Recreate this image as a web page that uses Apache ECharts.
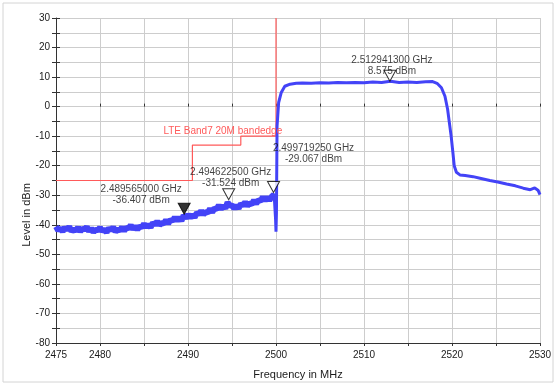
<!DOCTYPE html>
<html>
<head>
<meta charset="utf-8">
<script src="https://cdn.jsdelivr.net/npm/echarts@6/dist/echarts.min.js"></script>
<style>html,body{margin:0;padding:0;background:#fff}#c{width:555px;height:385px}</style>
</head>
<body>
<div id="c"></div>
<script>
// ---- data ----
const xTickLabels = [2475, 2480, 2490, 2500, 2510, 2520, 2530];
const yTickLabels = [-80, -70, -60, -50, -40, -30, -20, -10, 0, 10, 20, 30];

// noisy part of the trace (below the band), read every 0.25 MHz
const noisyFreq = [
  2475.00,2475.25,2475.50,2475.75,2476.00,2476.25,2476.50,2476.75,2477.00,2477.25,
  2477.50,2477.75,2478.00,2478.25,2478.50,2478.75,2479.00,2479.25,2479.50,2479.75,
  2480.00,2480.25,2480.50,2480.75,2481.00,2481.25,2481.50,2481.75,2482.00,2482.25,
  2482.50,2482.75,2483.00,2483.25,2483.50,2483.75,2484.00,2484.25,2484.50,2484.75,
  2485.00,2485.25,2485.50,2485.75,2486.00,2486.25,2486.50,2486.75,2487.00,2487.25,
  2487.50,2487.75,2488.00,2488.25,2488.50,2488.75,2489.00,2489.25,2489.50,2489.75,
  2490.00,2490.25,2490.50,2490.75,2491.00,2491.25,2491.50,2491.75,2492.00,2492.25,
  2492.50,2492.75,2493.00,2493.25,2493.50,2493.75,2494.00,2494.25,2494.50,2494.75,
  2495.00,2495.25,2495.50,2495.75,2496.00,2496.25,2496.50,2496.75,2497.00,2497.25,
  2497.50,2497.75,2498.00,2498.25,2498.50,2498.75,2499.00,2499.25,2499.50,2499.75,2499.80];
const noisyLevel = [
  -40.6,-41.9,-41.1,-42.3,-40.9,-41.7,-40.6,-42.2,-41.5,-42.0,
  -40.9,-42.3,-41.2,-41.7,-40.7,-42.2,-41.2,-42.5,-41.5,-42.0,
  -40.9,-42.2,-41.5,-42.6,-41.1,-41.9,-40.8,-42.3,-41.5,-42.0,
  -40.8,-42.1,-40.9,-41.3,-40.1,-41.5,-40.4,-41.6,-40.5,-40.9,
  -39.7,-40.8,-39.9,-40.9,-39.3,-40.0,-38.8,-40.1,-39.3,-39.6,
  -38.4,-39.6,-38.3,-38.7,-37.4,-38.7,-37.5,-38.7,-36.8,-37.8,
  -36.5,-37.6,-36.6,-37.5,-35.9,-36.5,-35.2,-36.5,-35.6,-35.9,
  -34.6,-35.8,-34.4,-34.7,-33.4,-34.7,-33.5,-34.5,-32.4,-33.6,
  -33.3,-34.5,-33.5,-34.5,-32.9,-33.5,-32.3,-33.6,-32.7,-33.0,
  -31.7,-32.9,-31.6,-31.9,-30.6,-31.8,-30.6,-31.7,-30.5,-29.8,-30.4];

// in-band and upper part of the trace
const bandFreq = [2499.8,2499.95,2500.0,2500.05,2500.12,2500.3,2500.6,2501.0,2501.6,2502.3,2503,2504,2505,2506,2507,2508,2509,2510,2511,2512,2513,2514,2515,2516,2517,2517.8,2518.3,2518.8,2519.2,2519.5,2519.7,2519.9,2520.1,2520.25,2520.5,2520.9,2521.5,2522.4,2523.3,2524.3,2525.2,2526.2,2527.2,2528.1,2528.9,2529.4,2529.8,2530];
const bandLevel = [-30.4,-38,-42.3,-36,-6.6,1.4,4.8,6.9,7.6,7.9,8.0,7.9,8.1,8.0,8.2,8.1,8.2,8.1,8.3,8.2,8.6,8.2,8.3,8.2,8.4,8.5,7.9,6.4,3.5,-0.9,-5.4,-9.9,-15.5,-20,-22.2,-23.1,-23.3,-23.7,-24.3,-25.0,-25.5,-26.2,-26.8,-27.6,-28.1,-27.5,-28.4,-29.8];

// limit line (LTE Band7 20M bandedge)
const limitFreq = [2475, 2490.5, 2490.5, 2496, 2496, 2500, 2500];
const limitLevel = [-25, -25, -13, -13, -10, -10, 30];
const limitName = 'LTE Band7 20M bandedge';

// markers
const markerFreq = [2489.565, 2494.6225, 2499.71925, 2512.9413];
const markerLevel = [-36.407, -31.524, -29.067, 8.575];
const markerFilled = [true, false, false, false];
const markerLabelOffset = [[-43, -14], [2, -16.5], [40, -33], [2, -10.5]];

// ---- chart ----
const zip = (a, b) => a.map((v, i) => [v, b[i]]);
const FONT = 'Liberation Sans, Arial, sans-serif';

const chart = echarts.init(document.getElementById('c'), null, {renderer: 'canvas'});
const option = {
  animation: false,
  backgroundColor: '#fff',
  textStyle: {fontFamily: FONT},
  grid: {left: 56, top: 18, right: 15, bottom: 40, containLabel: false},
  xAxis: [{
    type: 'value', min: 2475, max: 2530, interval: 5, position: 'bottom',
    name: 'Frequency in MHz', nameLocation: 'middle', nameGap: 26,
    nameTextStyle: {fontFamily: FONT, fontSize: 11, color: '#1a1a1a'},
    axisLine: {show: true, onZero: false, lineStyle: {color: '#333', width: 1}},
    axisTick: {show: true, length: 3, lineStyle: {color: '#333'}},
    axisLabel: {fontFamily: FONT, fontSize: 10, color: '#1a1a1a', margin: 7,
      formatter: v => xTickLabels.includes(v) ? String(v) : ''},
    splitLine: {show: true, lineStyle: {color: '#cdcdcd', width: 1}}
  }, {
    type: 'value', min: 2475, max: 2530, interval: 5, position: 'bottom', offset: 0,
    axisLine: {show: false}, axisLabel: {show: false}, splitLine: {show: false},
    axisTick: {show: true, inside: true, length: 3, lineStyle: {color: '#333'}}
  }],
  yAxis: [{
    type: 'value', min: -80, max: 30, interval: 5, position: 'left',
    axisLine: {show: true, onZero: false, lineStyle: {color: '#333', width: 1}},
    axisTick: {show: true, length: 4, lineStyle: {color: '#333'}},
    axisLabel: {fontFamily: FONT, fontSize: 10, color: '#1a1a1a', margin: 6,
      formatter: v => yTickLabels.includes(v) ? String(v) : ''},
    splitLine: {show: true, lineStyle: {color: '#cdcdcd', width: 1}}
  }, {
    type: 'value', min: -80, max: 30, interval: 5, position: 'left', offset: 0,
    axisLine: {show: false}, axisLabel: {show: false}, splitLine: {show: false},
    axisTick: {show: true, inside: true, length: 4, lineStyle: {color: '#333'}}
  }],
  series: [{
    type: 'line', name: 'limit', data: zip(limitFreq, limitLevel),
    showSymbol: false, symbol: 'none', z: 2,
    lineStyle: {color: '#ff5a5a', width: 1.2},
    markPoint: {
      symbol: 'circle', symbolSize: 1, itemStyle: {color: 'rgba(0,0,0,0)'},
      data: [{coord: [limitFreq[3], limitLevel[3]], value: limitName}],
      label: {show: true, formatter: limitName, color: '#ff5a5a', fontFamily: FONT, fontSize: 10,
        position: 'inside', align: 'center', verticalAlign: 'middle', offset: [-18, -14]}
    }
  }, {
    type: 'line', name: 'noise', data: zip(noisyFreq, noisyLevel),
    showSymbol: false, symbol: 'none', z: 3,
    lineStyle: {color: '#4343f7', width: 6}
  }, {
    type: 'line', name: 'trace', data: zip(bandFreq, bandLevel),
    showSymbol: false, symbol: 'none', z: 3,
    lineStyle: {color: '#4343f7', width: 3}
  }, {
    type: 'scatter', name: 'markers', z: 5,
    symbol: 'path://M0 0L12 0L6 11Z', symbolSize: [12, 11], symbolOffset: [0, -5.5],
    data: markerFreq.map((f, i) => ({
      value: [f, markerLevel[i]],
      itemStyle: {color: markerFilled[i] ? '#000' : '#fff', borderColor: '#000', borderWidth: 1},
      label: {offset: markerLabelOffset[i]}
    })),
    label: {
      show: true, position: 'inside', align: 'center', verticalAlign: 'middle',
      fontFamily: FONT, fontSize: 10, color: '#111', lineHeight: 11,
      formatter: p => (p.value[0] / 1000).toFixed(9) + ' GHz\n' + p.value[1].toFixed(3) + ' dBm'
    }
  }],
  graphic: [{
    type: 'rect', shape: {x: 3, y: 3, width: 550, height: 379},
    style: {fill: null, stroke: '#d4d4d4', lineWidth: 1}, silent: true, z: -10
  }, {
    type: 'text', x: 27, y: 215, rotation: Math.PI / 2,
    style: {text: 'Level in dBm', fontFamily: FONT, fontSize: 11, fill: '#1a1a1a',
      align: 'center', verticalAlign: 'middle'}
  }]
};
chart.setOption(option);
</script>
</body>
</html>
